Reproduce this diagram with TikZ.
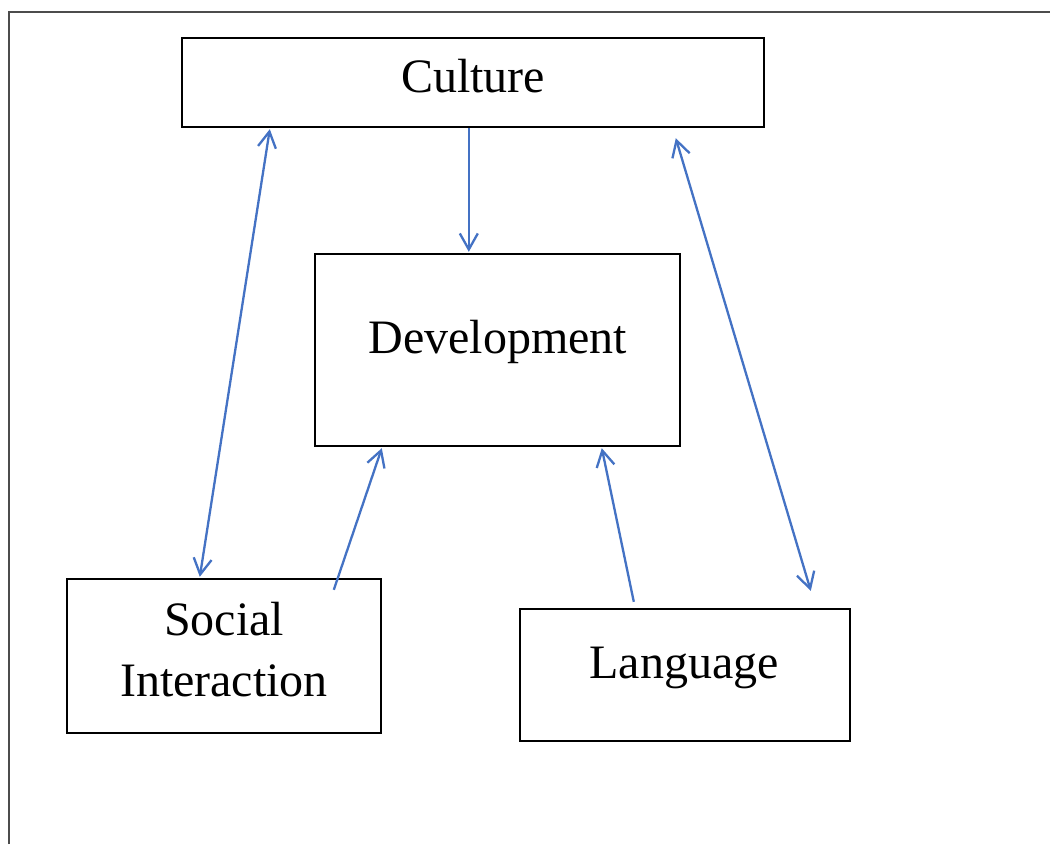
\documentclass[tikz,border=0pt]{standalone}
\usepackage{fontspec}
\setmainfont{Liberation Serif}
\usetikzlibrary{arrows.meta,calc}

\definecolor{linkblue}{HTML}{4472C4}

\tikzset{
  box/.style={draw=black, line width=2.4pt, rectangle, inner sep=0pt},
  lbl/.style={anchor=base, inner sep=0pt, font=\fontsize{48}{57}\selectfont},
  link/.style={draw=linkblue, line width=2.3pt},
  barb/.tip={Straight Barb[length=16pt, width=18pt]}
}

\begin{document}
\begin{tikzpicture}[x=1pt, y=-1pt]
  \useasboundingbox (0,0) rectangle (1050,844);
  \fill[white] (0,0) rectangle (1050,844);

  % page frame
  \draw[line width=2pt, black!70] (8.5,844) -- (8.5,11.5) -- (1050,11.5);

  % boxes
  \node[box, minimum width=582pt, minimum height=89pt] (cul) at (473,82.5) {};
  \node[box, minimum width=365pt, minimum height=192pt] (dev) at (497.5,350) {};
  \node[box, minimum width=314pt, minimum height=154pt] (soc) at (224,656) {};
  \node[box, minimum width=330pt, minimum height=132pt] (lang) at (685,675) {};

  % labels
  \node[lbl] (culT) at (473,92.7) {Culture};
  \node[lbl] (devT) at (498,353.3) {Development};
  \node[lbl] (socT1) at (224,635) {Social};
  \node[lbl] (socT2) at (224,696.7) {Interaction};
  \node[lbl] (langT) at (684,678.3) {Language};

  % connector end points
  \coordinate (c1) at ($(cul.south west)+(89,1)$);
  \coordinate (s1) at ($(soc.north west)+(134,-1)$);
  \coordinate (c2) at ($(cul.south west)+(288,0)$);
  \coordinate (d2) at ($(dev.north west)+(155,-1)$);
  \coordinate (s3) at ($(soc.north west)+(268,12)$);
  \coordinate (d3) at ($(dev.south west)+(68,1)$);
  \coordinate (l4) at ($(lang.north west)+(115,-6)$);
  \coordinate (d4) at ($(dev.south west)+(288,1)$);
  \coordinate (c5) at ($(cul.south west)+(495,10)$);
  \coordinate (l5) at ($(lang.north west)+(292,-17)$);

  % connectors
  \draw[link, barb-barb] (c1) -- (s1);
  \draw[link, -barb] (c2) -- (d2);
  \draw[link, -barb] (s3) -- (d3);
  \draw[link, -barb] (l4) -- (d4);
  \draw[link, barb-barb] (c5) -- (l5);
\end{tikzpicture}
\end{document}
